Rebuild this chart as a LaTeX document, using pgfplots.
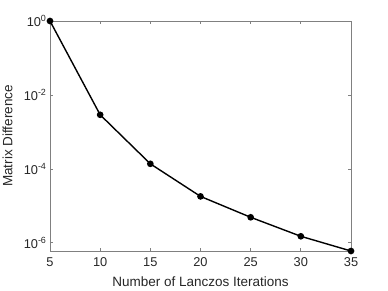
\documentclass[border=0pt]{standalone}
\usepackage{pgfplots}
\pgfplotsset{compat=1.18}
\usepackage{fontspec}
\setmainfont{Liberation Sans}
\definecolor{axgray}{RGB}{38,38,38}
\begin{document}
\begin{tikzpicture}
\path[use as bounding box] (-50bp,-40bp) rectangle (338bp,251bp);
\begin{axis}[
  at={(0,0)}, anchor=south west,
  scale only axis, width=301bp, height=230bp,
  ymode=log,
  xmin=5, xmax=35, ymin=6e-7, ymax=1,
  xtick={5,10,15,20,25,30,35},
  xticklabels={5,10,15,20,25,30,35},
  ytick={1,1e-2,1e-4,1e-6},
  yticklabels={10\textsuperscript{0},10\textsuperscript{-2},10\textsuperscript{-4},10\textsuperscript{-6}},
  minor ytick={}, yminorticks=false,
  tick align=inside,
  major tick length=3bp,
  axis line style={black!50, line width=0.7bp},
  tick style={black!50, line width=0.7bp},
  ticklabel style={font=\fontsize{12.8bp}{14bp}\selectfont, text=axgray},
  xticklabel style={yshift=-3bp},
  xlabel={Number of Lanczos Iterations},
  ylabel={Matrix Difference},
  label style={font=\fontsize{13.5bp}{15bp}\selectfont, text=axgray},
  xlabel style={at={(axis description cs:0.5,0)}, anchor=north, yshift=-22bp},
  ylabel style={at={(axis description cs:0,0.5)}, anchor=south, yshift=34bp},
  clip=false,
]
\addplot[black, line width=1.4bp, mark=*, mark size=2.6bp] coordinates {
(5,1) (10,2.9e-3) (15,1.37e-4) (20,1.8e-5) (25,4.9e-6) (30,1.5e-6) (35,6e-7)
};
\end{axis}
\end{tikzpicture}
\end{document}
